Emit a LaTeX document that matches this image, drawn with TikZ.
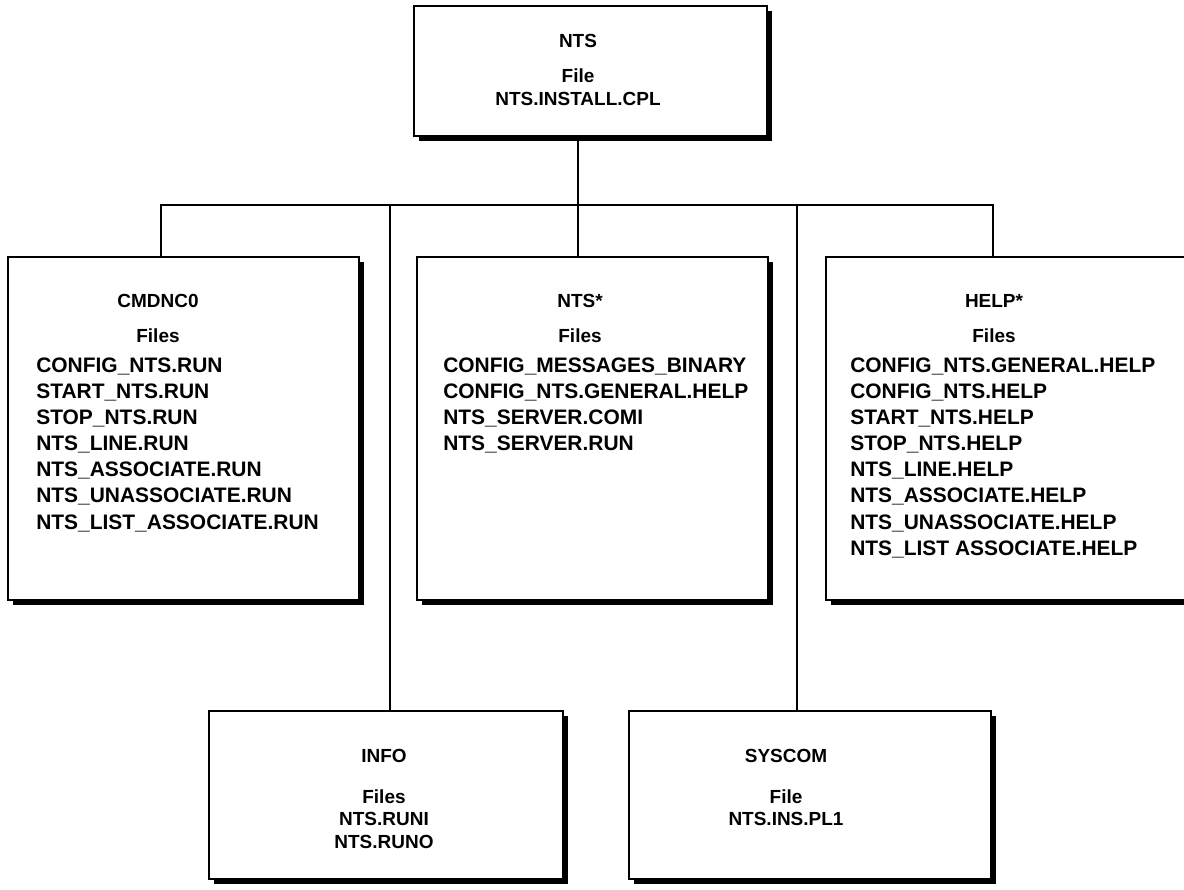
\documentclass[tikz,border=0pt]{standalone}
\usepackage{fontspec}
\setmainfont{Liberation Sans}
\usetikzlibrary{shadows}

\begin{document}
\begin{tikzpicture}[x=0.025cm,y=-0.025cm,
    dirbox/.style={draw,line width=2pt,fill=white,inner sep=0pt,
      drop shadow={shadow xshift=3.4pt,shadow yshift=-3.4pt,opacity=1,fill=black}},
    wire/.style={line width=1.5pt},
    head/.style={font=\bfseries\fontsize{13.5}{16}\selectfont,align=center,
      inner sep=0pt,anchor=north},
    flist/.style={font=\bfseries\fontsize{14.9}{18.5}\selectfont,align=left,
      inner sep=0pt,anchor=north west}]
  \useasboundingbox (0,0) rectangle (1184,889);
    \newcommand\dirnode[5]{
      \node[dirbox,minimum width={(#4-#2)*0.025cm},
        minimum height={(#5-#3)*0.025cm}] at ({(#2+#4)/2},{(#3+#5)/2}) (#1) {};
    }
    \dirnode{nts}{414}{6}{767}{136}%
    \dirnode{cmd}{8}{257}{359}{600}%
    \dirnode{ntsx}{417}{257}{768}{600}%
    \dirnode{help}{826}{257}{1240}{600}%
    \dirnode{info}{209}{711}{563}{879}%
    \dirnode{syscom}{629}{711}{991}{879}%
    % headings
    \node[head] at (578,34) (nts-t) {NTS\\[9pt]File\\NTS.INSTALL.CPL};
    \node[head] at (158,294) (cmd-t) {CMDNC0\\[9pt]Files};
    \node[head] at (580,294) (ntsx-t) {NTS*\\[9pt]Files};
    \node[head] at (994,294) (help-t) {HELP*\\[9pt]Files};
    \node[head] at (384,749) (info-t) {INFO\\[13pt]Files\\NTS.RUNI\\NTS.RUNO};
    \node[head] at (786,749) (syscom-t) {SYSCOM\\[13pt]File\\NTS.INS.PL1};
    % file lists
    \node[flist] at (36,358) (cmd-f) {CONFIG\_NTS.RUN\\START\_NTS.RUN\\
      STOP\_NTS.RUN\\NTS\_LINE.RUN\\NTS\_ASSOCIATE.RUN\\
      NTS\_UNASSOCIATE.RUN\\NTS\_LIST\_ASSOCIATE.RUN};
    \node[flist] at (443,358) (ntsx-f) {CONFIG\_MESSAGES\_BINARY\\
      CONFIG\_NTS.GENERAL.HELP\\NTS\_SERVER.COMI\\NTS\_SERVER.RUN};
    \node[flist] at (850,358) (help-f) {CONFIG\_NTS.GENERAL.HELP\\
      CONFIG\_NTS.HELP\\START\_NTS.HELP\\STOP\_NTS.HELP\\NTS\_LINE.HELP\\
      NTS\_ASSOCIATE.HELP\\NTS\_UNASSOCIATE.HELP\\NTS\_LIST ASSOCIATE.HELP};
    % tree lines
    \coordinate (bus-l) at (161,205);
    \coordinate (bus-r) at (993,205);
    \coordinate (trunk) at (578,205);
    \coordinate (drop-i) at (390,205);
    \coordinate (drop-s) at (797,205);
    \draw[wire] (bus-l |- cmd.north) -- (bus-l) -- (bus-r) -- (bus-r |- help.north);
    \draw[wire] (trunk |- nts.south) -- (trunk |- ntsx.north);
    \draw[wire] (drop-i) -- (drop-i |- info.north) (drop-s) -- (drop-s |- syscom.north);
  \end{tikzpicture}
\end{document}
